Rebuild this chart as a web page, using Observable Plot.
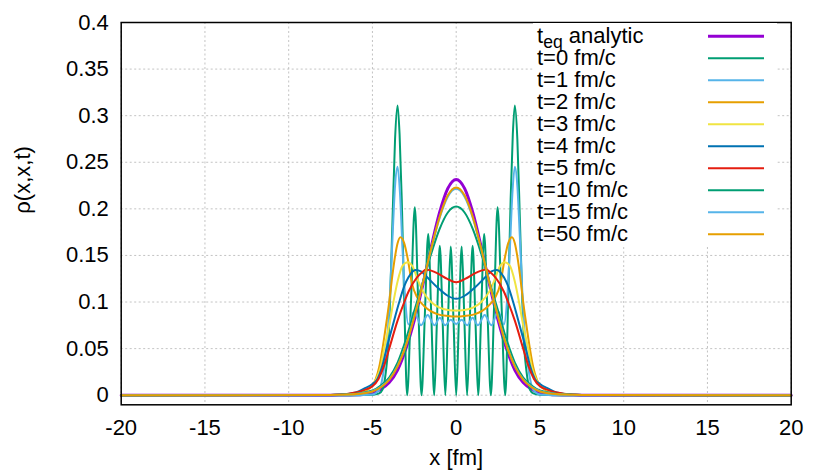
<!DOCTYPE html>
<html><head><meta charset="utf-8">
<script src="https://cdn.jsdelivr.net/npm/d3@7"></script>
<script src="https://cdn.jsdelivr.net/npm/@observablehq/plot@0.6"></script>
<style>body{margin:0;background:#fff;} svg{display:block}</style>
</head><body><div id="chart"></div>
<script>
// ---------- data ----------
const xTicks = [-20, -15, -10, -5, 0, 5, 10, 15, 20];
const yTicks = [0, 0.05, 0.1, 0.15, 0.2, 0.25, 0.3, 0.35, 0.4];
const seriesLabels = ["analytic", "t=0 fm/c", "t=1 fm/c", "t=2 fm/c", "t=3 fm/c", "t=4 fm/c", "t=5 fm/c", "t=10 fm/c", "t=15 fm/c", "t=50 fm/c"];
const seriesColors = ["#9400d3", "#009e73", "#56b4e9", "#e69f00", "#f0e442", "#0072b2", "#e51e10", "#009e73", "#56b4e9", "#e69f00"];

// shared x grid for the bell-shaped curves
const xBell = [-20,-8,-7,-6,-5.5,-5,-4.5,-4,-3.5,-3,-2.5,-2,-1.5,-1,-0.5,0,0.5,1,1.5,2,2.5,3,3.5,4,4.5,5,5.5,6,7,8,20];
const yTeq = [0,0,0.0001,0.0004,0.0011,0.0028,0.0065,0.0135,0.027,0.050,0.0806,0.1178,0.1584,0.1956,0.2220,0.2316,0.2220,0.1956,0.1584,0.1178,0.0806,0.050,0.027,0.0135,0.0065,0.0028,0.0011,0.0004,0.0001,0,0];
const yT10 = [0,0.0002,0.0006,0.0015,0.0028,0.005,0.0105,0.019,0.035,0.060,0.0905,0.1209,0.1515,0.1780,0.1961,0.2025,0.1961,0.1780,0.1515,0.1209,0.0905,0.060,0.035,0.019,0.0105,0.005,0.0028,0.0015,0.0006,0.0002,0];
const yT15 = [0,0.0001,0.0004,0.0013,0.0024,0.0043,0.009,0.017,0.0315,0.054,0.0844,0.1195,0.1565,0.1898,0.2131,0.2215,0.2131,0.1898,0.1565,0.1195,0.0844,0.054,0.0315,0.017,0.009,0.0043,0.0024,0.0013,0.0004,0.0001,0];
const yT50 = [0,0.0001,0.0004,0.0012,0.0022,0.004,0.0085,0.0165,0.031,0.0535,0.0840,0.1194,0.1569,0.1908,0.2145,0.2230,0.2145,0.1908,0.1569,0.1194,0.0840,0.0535,0.031,0.0165,0.0085,0.004,0.0022,0.0012,0.0004,0.0001,0];

const xT0 = [-20,-6,-5,-4.6,-4.4,-4.2,-4.05,-3.95,-3.8,-3.65,-3.5,-3.38,-3.25,-3.1,-2.93,-2.7,-2.47,-2.27,-2.07,-1.87,-1.67,-1.49,-1.31,-1.15,-0.98,-0.81,-0.65,-0.49,-0.33,-0.16,0,
             0.16,0.33,0.49,0.65,0.81,0.98,1.15,1.31,1.49,1.67,1.87,2.07,2.27,2.47,2.7,2.93,3.1,3.25,3.38,3.5,3.65,3.8,3.95,4.05,4.2,4.4,4.6,5,6,20];
const yT0 = [0,0,0.0005,0.002,0.006,0.025,0.055,0.10,0.19,0.275,0.311,0.28,0.21,0.10,0,0.10,0.2016,0.10,0,0.087,0.173,0.087,0,0.08,0.1605,0.08,0,0.08,0.1595,0.08,0,
             0.08,0.1595,0.08,0,0.08,0.1605,0.08,0,0.087,0.173,0.087,0,0.10,0.2016,0.10,0,0.10,0.21,0.28,0.311,0.275,0.19,0.10,0.055,0.025,0.006,0.002,0.0005,0,0];

const xT1 = [-20,-6,-5,-4.6,-4.3,-4.1,-3.95,-3.8,-3.65,-3.5,-3.35,-3.2,-3.05,-2.85,-2.5,-2.1,-1.7,-1.3,-0.98,-0.65,-0.33,0,
             0.33,0.65,0.98,1.3,1.7,2.1,2.5,2.85,3.05,3.2,3.35,3.5,3.65,3.8,3.95,4.1,4.3,4.6,5,6,20];
const yT1 = [0,0,0.0008,0.006,0.03,0.065,0.11,0.17,0.225,0.2452,0.215,0.155,0.105,0.076,0.090,0.075,0.086,0.075,0.083,0.075,0.081,0.0765,
             0.081,0.075,0.083,0.075,0.086,0.075,0.090,0.076,0.105,0.155,0.215,0.2452,0.225,0.17,0.11,0.065,0.03,0.006,0.0008,0,0];

const xT2 = [-20,-7,-6,-5.5,-5,-4.8,-4.6,-4.4,-4.2,-4,-3.8,-3.64,-3.5,-3.33,-3.1,-2.9,-2.63,-2.33,-1.93,-1.13,-0.5,0,
             0.5,1.13,1.93,2.33,2.63,2.9,3.1,3.33,3.5,3.64,3.8,4,4.2,4.4,4.6,4.8,5,5.5,6,7,20];
const yT2 = [0,0.0002,0.001,0.004,0.0104,0.0175,0.03,0.05,0.074,0.10,0.13,0.15,0.163,0.1695,0.163,0.147,0.119,0.105,0.096,0.087,0.085,0.0844,
             0.085,0.087,0.096,0.105,0.119,0.147,0.163,0.1695,0.163,0.15,0.13,0.10,0.074,0.05,0.03,0.0175,0.0104,0.004,0.001,0.0002,0];

const xT3 = [-20,-7,-6,-5.5,-5,-4.75,-4.5,-4.3,-4,-3.75,-3.5,-3.2,-2.9,-2.6,-2.3,-2,-1.5,-1,-0.5,0,
             0.5,1,1.5,2,2.3,2.6,2.9,3.2,3.5,3.75,4,4.3,4.5,4.75,5,5.5,6,7,20];
const yT3 = [0,0.0003,0.0015,0.005,0.011,0.018,0.031,0.05,0.075,0.10,0.122,0.139,0.1427,0.138,0.124,0.112,0.100,0.094,0.0915,0.0908,
             0.0915,0.094,0.100,0.112,0.124,0.138,0.1427,0.139,0.122,0.10,0.075,0.05,0.031,0.018,0.011,0.005,0.0015,0.0003,0];

const xT4 = [-20,-8,-7,-6,-5.5,-5,-4.7,-4.4,-4.2,-3.8,-3.4,-3.1,-2.85,-2.43,-2.1,-1.73,-1.13,-0.53,0,
             0.53,1.13,1.73,2.1,2.43,2.85,3.1,3.4,3.8,4.2,4.4,4.7,5,5.5,6,7,8,20];
const yT4 = [0,0.0002,0.0005,0.003,0.007,0.012,0.0175,0.032,0.047,0.074,0.10,0.117,0.1266,0.1345,0.133,0.1266,0.1158,0.107,0.1034,
             0.107,0.1158,0.1266,0.133,0.1345,0.1266,0.117,0.10,0.074,0.047,0.032,0.0175,0.012,0.007,0.003,0.0005,0.0002,0];

const xT5 = [-20,-8,-7,-6,-5.5,-5,-4.64,-4.3,-4,-3.5,-3.1,-2.85,-2.33,-2,-1.8,-1.2,-0.53,0,
             0.53,1.2,1.8,2,2.33,2.85,3.1,3.5,4,4.3,4.64,5,5.5,6,7,8,20];
const yT5 = [0,0.0002,0.0008,0.003,0.0055,0.0095,0.0175,0.032,0.05,0.08,0.10,0.111,0.1266,0.1325,0.135,0.1315,0.1248,0.1212,
             0.1248,0.1315,0.135,0.1325,0.1266,0.111,0.10,0.08,0.05,0.032,0.0175,0.0095,0.0055,0.003,0.0008,0.0002,0];

const seriesX = [xBell, xT0, xT1, xT2, xT3, xT4, xT5, xBell, xBell, xBell];
const seriesY = [yTeq, yT0, yT1, yT2, yT3, yT4, yT5, yT10, yT15, yT50];
const seriesWidth = [3, 2, 2, 2, 2, 2, 2, 2, 2, 2];

// ---------- chart ----------
const FONT = "'Liberation Sans', Arial, Helvetica, sans-serif";
const lineMarks = seriesY.map((ys, i) => {
  const rows = ys.map((y, j) => ({x: seriesX[i][j], y}));
  return Plot.line(rows, {x: "x", y: "y", stroke: seriesColors[i], strokeWidth: seriesWidth[i], curve: "monotone-x"});
});

const gridStyle = {stroke: "#b4b4b4", strokeWidth: 0.8, strokeDasharray: "2,2.5", strokeOpacity: 1};

const svg = Plot.plot({
  width: 830,
  height: 475,
  marginLeft: 120.7,
  marginRight: 39.3,
  marginTop: 22,
  marginBottom: 70.7,
  style: {fontFamily: FONT, fontSize: "22px", color: "#000", background: "#fff"},
  x: {domain: [-20, 20]},
  y: {domain: [-0.0103, 0.4]},
  marks: [
    Plot.ruleX(xTicks, {...gridStyle}),
    Plot.ruleY(yTicks, {...gridStyle}),
    ...lineMarks,
    Plot.frame({stroke: "#000", strokeWidth: 1.5}),
    Plot.axisX({ticks: xTicks, tickSize: 0, tickPadding: 15, tickFormat: d => String(d), fontSize: 22, label: null}),
    Plot.axisY({ticks: yTicks, tickSize: 0, tickPadding: 12.4, tickFormat: d => String(d), fontSize: 22, label: null}),
    Plot.text(["x [fm]"], {frameAnchor: "bottom", dy: 60, fontSize: 22, fill: "#000"}),
    Plot.text(["ρ(x,x,t)"], {frameAnchor: "left", dx: -98, rotate: -90, fontSize: 22, fill: "#000"})
  ]
});

// ---------- legend (opaque key box, gnuplot style) ----------
const g = d3.select(svg).append("g").attr("font-family", FONT).attr("font-size", 22).attr("text-anchor", "start");
g.append("rect").attr("x", 533).attr("y", 23).attr("width", 244).attr("height", 223).attr("fill", "#fff");
seriesLabels.forEach((lab, i) => {
  const yy = 36.3 + 22 * i;
  g.append("line").attr("x1", 708).attr("x2", 764).attr("y1", yy).attr("y2", yy)
    .attr("stroke", seriesColors[i]).attr("stroke-width", seriesWidth[i]);
  const t = g.append("text").attr("x", 537).attr("y", yy).attr("dy", "0.3em").attr("fill", "#000").attr("text-anchor", "start");
  if (i === 0) {
    t.append("tspan").text("t");
    t.append("tspan").attr("font-size", 17.6).attr("dy", 5).text("eq");
    t.append("tspan").attr("dy", -5).text(" " + lab);
  } else {
    t.text(lab);
  }
});

document.getElementById("chart").appendChild(svg);
</script>
</body></html>
